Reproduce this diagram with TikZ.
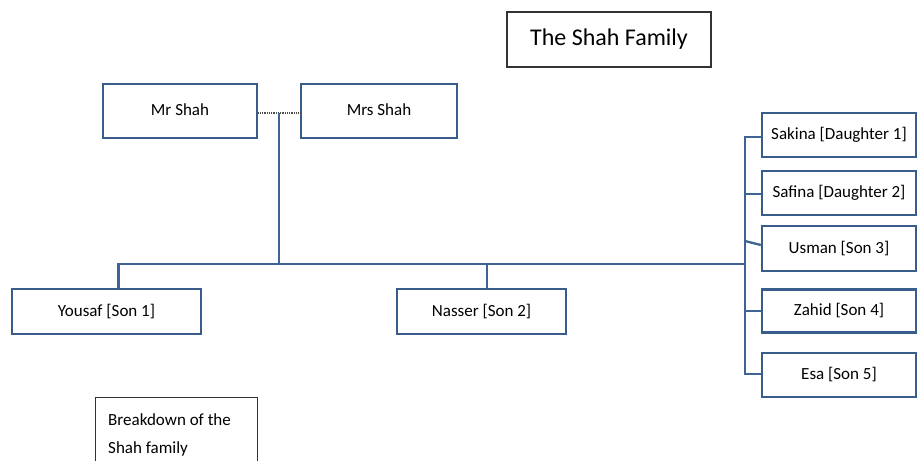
\documentclass[tikz,border=0pt]{standalone}
\usepackage{fontspec}
\setmainfont{Carlito}
\usetikzlibrary{calc}
\definecolor{boxblue}{HTML}{385D8A}
\definecolor{linkblue}{HTML}{3F6494}
\definecolor{frame}{HTML}{333333}
\begin{document}
\begin{tikzpicture}[x=1pt,y=-1pt,
  member/.style={draw=boxblue, line width=2.3pt, fill=white, inner sep=0pt,
    font=\fontsize{17}{20}\selectfont},
  link/.style={draw=linkblue, line width=2.3pt},
  marriage/.style={draw=black!70, line width=1.2pt, dash pattern=on 1pt off 0.8pt},
  plainbox/.style={draw=frame, line width=1.4pt, fill=white, inner sep=0pt}]
\useasboundingbox (0,0) rectangle (917,460);
\clip (0,0) rectangle (917,460);

% title
\node[plainbox, minimum width=204, minimum height=55,
  font=\fontsize{24}{28}\selectfont] (title) at (609,39.5) {The Shah Family};

% parents
\node[member, minimum width=154, minimum height=54] (mr) at (180,111) {\raisebox{2pt}{Mr Shah}};
\node[member, minimum width=156, minimum height=54] (mrs) at (379,111) {\raisebox{2pt}{Mrs Shah}};

% sons in the lower row
\node[member, minimum width=189, minimum height=45] (yousaf) at (106.5,311.5) {Yousaf [Son 1]};
\node[member, minimum width=169, minimum height=45] (nasser) at (481.5,311.5) {Nasser [Son 2]};

% right-hand column
\node[member, minimum width=154, minimum height=44] (sakina) at (839,135) {Sakina [Daughter 1]};
\node[member, minimum width=154, minimum height=44] (safina) at (839,193) {Safina [Daughter 2]};
\node[member, minimum width=154, minimum height=45] (usman) at (839,248.5) {Usman [Son 3]};
\node[member, minimum width=154, minimum height=43] (zahid) at (839,311) {Zahid [Son 4]};
\node[member, minimum width=154, minimum height=44] (esa) at (839,375) {Esa [Son 5]};

% junction points
\coordinate (wed) at (279,113);
\coordinate (bus) at (279,264);
\coordinate (trunk) at (745,264);
\coordinate (ytop) at ($(yousaf.north)+(12,0)$);
\coordinate (ntop) at ($(nasser.north)+(5.5,0)$);

% marriage line and descent
\draw[marriage] (mr.east |- wed) -- (mrs.west |- wed);
\draw[link] (wed) -- (bus);
\draw[link] (ytop) |- (trunk);
\draw[link] (ntop) -- (ntop |- bus);

% branches to the right-hand column
\draw[link] (sakina.west |- 0,137) -| (745,374) -- (esa.west |- 0,374);
\draw[link] (745,194) -- (safina.west |- 0,194);
\draw[link] (745,241) -- (usman.west |- 0,245);
\draw[link] (745,311) -- (zahid.west);

% caption box
\node[plainbox, anchor=north west, minimum width=162, minimum height=80] (bdbox) at (95,397) {};
\node[anchor=north west, inner sep=0pt, align=left,
  font=\fontsize{17}{28}\selectfont] (bdtext) at (108,413) {Breakdown of the\\Shah family};
\end{tikzpicture}
\end{document}
